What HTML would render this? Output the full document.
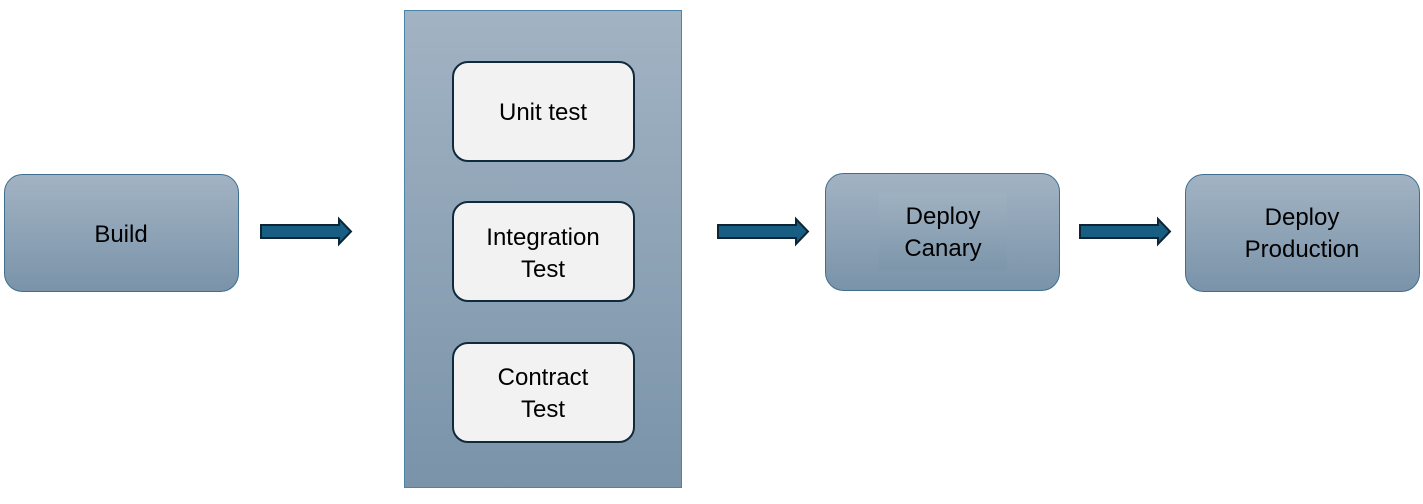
<!DOCTYPE html>
<html><head><style>
html,body{margin:0;padding:0;background:#fff;}
svg text{font-family:"Liberation Sans",sans-serif;font-size:24px;fill:#000;text-anchor:middle;}
</style></head><body>
<svg width="1423" height="499" viewBox="0 0 1423 499" xmlns="http://www.w3.org/2000/svg">
<defs>
<linearGradient id="g" x1="0" y1="0" x2="0" y2="1">
<stop offset="0" stop-color="#a2b3c3"/><stop offset="1" stop-color="#7a93a9"/>
</linearGradient>
<linearGradient id="g2" x1="0" y1="0" x2="0" y2="1">
<stop offset="0" stop-color="#9fb1c1"/><stop offset="1" stop-color="#7d96ab"/>
</linearGradient>
</defs>
<rect x="4.5" y="174.5" width="234" height="117" rx="18" fill="url(#g)" stroke="#3f6f8f" stroke-width="1"/>
<text x="121" y="242">Build</text>

<rect x="404.5" y="10.5" width="277" height="477" fill="url(#g)" stroke="#4a84a8" stroke-width="1"/>
<rect x="453" y="62" width="181" height="99" rx="15" fill="#f2f2f2" stroke="#0f2a3c" stroke-width="2"/>
<text x="543" y="120">Unit test</text>
<rect x="453" y="202" width="181" height="99" rx="15" fill="#f2f2f2" stroke="#0f2a3c" stroke-width="2"/>
<text x="543" y="245">Integration</text><text x="543" y="277">Test</text>
<rect x="453" y="343" width="181" height="99" rx="15" fill="#f2f2f2" stroke="#0f2a3c" stroke-width="2"/>
<text x="543" y="385">Contract</text><text x="543" y="417">Test</text>

<rect x="825.5" y="173.5" width="234" height="117" rx="18" fill="url(#g)" stroke="#3f6f8f" stroke-width="1"/>
<rect x="879" y="193" width="128" height="77" fill="url(#g2)"/>
<text x="943" y="224">Deploy</text><text x="943" y="256">Canary</text>

<rect x="1185.5" y="174.5" width="234" height="117" rx="18" fill="url(#g)" stroke="#3f6f8f" stroke-width="1"/>
<text x="1302" y="225">Deploy</text><text x="1302" y="257">Production</text>

<g fill="#175e82" stroke="#0d2636" stroke-width="2" stroke-linejoin="miter">
<polygon points="261,225 339,225 339,219 351,231.5 339,244 339,238 261,238"/>
<polygon points="718,225 796,225 796,219 808,231.5 796,244 796,238 718,238"/>
<polygon points="1080,225 1158,225 1158,219 1170,231.5 1158,244 1158,238 1080,238"/>
</g>
</svg>
</body></html>
